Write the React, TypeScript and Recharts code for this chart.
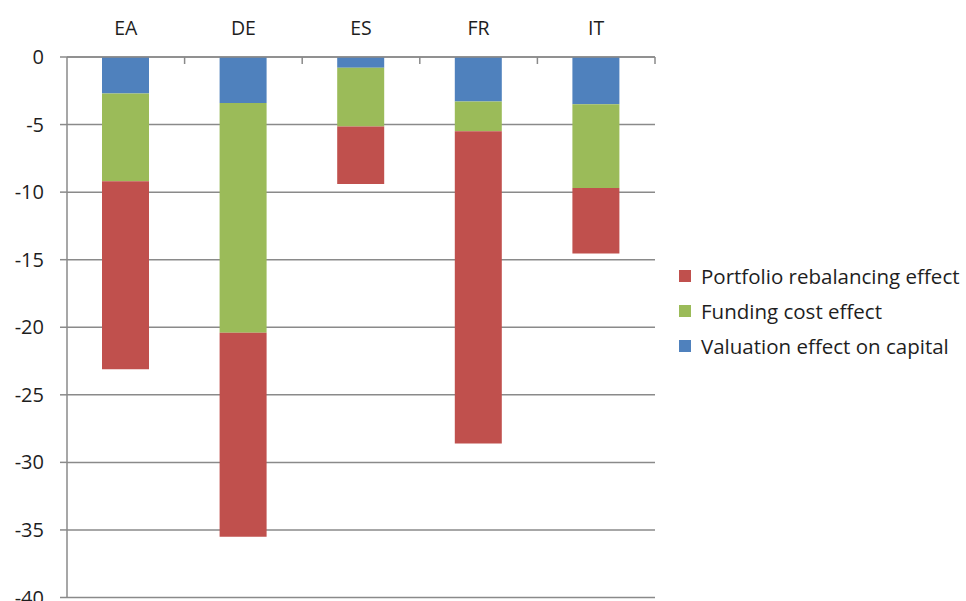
import React from 'react';
import { BarChart, Bar, XAxis, YAxis, CartesianGrid } from 'recharts';

const categories = ['EA', 'DE', 'ES', 'FR', 'IT'];
const valuation = [-2.7, -3.4, -0.8, -3.3, -3.5];
const funding = [-6.5, -17.0, -4.35, -2.2, -6.2];
const portfolio = [-13.9, -15.1, -4.25, -23.1, -4.85];
const yTicks = [0, -5, -10, -15, -20, -25, -30, -35, -40];

const seriesNames = {
  portfolio: 'Portfolio rebalancing effect',
  funding: 'Funding cost effect',
  valuation: 'Valuation effect on capital',
};
const colors = { valuation: '#4F81BD', funding: '#9BBB59', portfolio: '#C0504D' };

const data = categories.map((c, i) => ({
  name: c,
  valuation: valuation[i],
  funding: funding[i],
  portfolio: portfolio[i],
}));

const W = 966;
const H = 620;
const LEFT = 67;
const RIGHT_EDGE = 655;
const TOP = 57;
const BOTTOM_EDGE = 597.5;
const BAND = (RIGHT_EDGE - LEFT) / categories.length;
const FONT = '"Open Sans", Lato, sans-serif';
const GRID = '#8a8a8a';
const TEXT = '#1e1e1e';

const XTick = (props: any) => {
  const { x, y, payload } = props;
  return (
    <g>
      <text x={x} y={y - 30} textAnchor="middle" dominantBaseline="central" fontSize={19.5} fill={TEXT} fontFamily={FONT}>
        {payload.value}
      </text>
      <line x1={x + BAND / 2} x2={x + BAND / 2} y1={y} y2={y + 7} stroke={GRID} strokeWidth={1.5} />
    </g>
  );
};

export default function App() {
  const legendItems = [
    { key: 'portfolio', label: seriesNames.portfolio, color: colors.portfolio },
    { key: 'funding', label: seriesNames.funding, color: colors.funding },
    { key: 'valuation', label: seriesNames.valuation, color: colors.valuation },
  ];
  return (
    <div style={{ position: 'fixed', left: 0, top: 0, width: W, height: H, background: '#fff', fontFamily: FONT }}>
      <BarChart
        width={W}
        height={H}
        data={data}
        margin={{ top: 0, left: 0, right: W - RIGHT_EDGE, bottom: H - BOTTOM_EDGE }}
      >
        <CartesianGrid vertical={false} stroke={GRID} strokeWidth={1.5} />
        <XAxis
          dataKey="name"
          orientation="top"
          height={TOP}
          axisLine={{ stroke: GRID, strokeWidth: 1.5 }}
          tickLine={false}
          tickSize={0}
          tickMargin={0}
          tick={<XTick />}
          interval={0}
        />
        <YAxis
          width={LEFT}
          domain={[-40, 0]}
          ticks={yTicks}
          interval={0}
          axisLine={{ stroke: GRID, strokeWidth: 1.5 }}
          tickLine={{ stroke: GRID, strokeWidth: 1.5 }}
          tickSize={7}
          tickMargin={16}
          tick={{ fontSize: 20, fill: TEXT, fontFamily: FONT }}
        />
        <Bar dataKey="valuation" stackId="a" fill={colors.valuation} barSize={47} isAnimationActive={false} />
        <Bar dataKey="funding" stackId="a" fill={colors.funding} barSize={47} isAnimationActive={false} />
        <Bar dataKey="portfolio" stackId="a" fill={colors.portfolio} barSize={47} isAnimationActive={false} />
      </BarChart>
      <div style={{ position: 'absolute', left: 679, top: 258 }}>
        {legendItems.map((it) => (
          <div key={it.key} style={{ display: 'flex', alignItems: 'center', height: 35, whiteSpace: 'nowrap' }}>
            <span style={{ display: 'inline-block', width: 12, height: 12, background: it.color, marginRight: 10 }} />
            <span style={{ fontSize: 20.5, color: TEXT }}>{it.label}</span>
          </div>
        ))}
      </div>
    </div>
  );
}
